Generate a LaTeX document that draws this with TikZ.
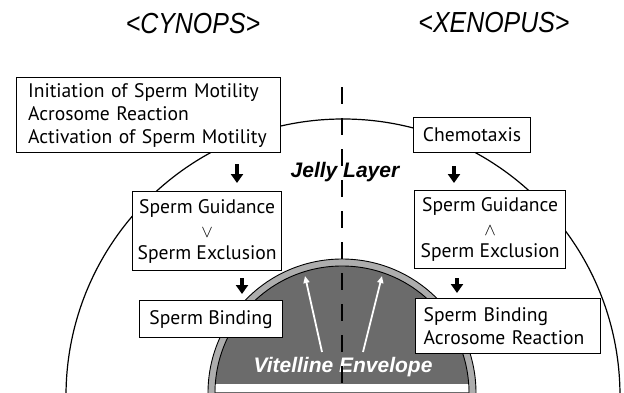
\documentclass[tikz,border=0pt]{standalone}
\usepackage{fontspec}
\usepackage{amsmath,amssymb}
\usetikzlibrary{arrows.meta}
\newfontfamily\boxfont{PT Sans}
\newfontfamily\headfont{Liberation Sans}

\begin{document}
\begin{tikzpicture}[x=1pt,y=-1pt,
species/.style={font=\headfont\itshape\fontsize{29}{34}\selectfont},
layer/.style={font=\headfont\bfseries\itshape\fontsize{21}{25}\selectfont},
event/.style={draw,line width=1.2pt,fill=white,anchor=north west,inner sep=0pt,font=\boxfont\fontsize{19.6}{23}\selectfont},
stage/.style={-{Triangle[width=12pt,length=9pt]},line width=4.2pt},
entry/.style={-{Triangle[width=6pt,length=7pt]},white,line width=1.8pt} ]

\useasboundingbox (0,0) rectangle (624,392);

\begin{scope}
\clip (0,0) rectangle (624,392);
\draw[line width=1.2pt] (343,396) circle[radius=277];
\filldraw[fill=black!32,draw=black,line width=0.9pt] (342,393) circle[radius=134];
\filldraw[fill=black!58,draw=black,line width=0.9pt] (342,393) circle[radius=127];
\clip (342,393) circle[radius=126.5];
\fill[white] (0,384) rectangle (624,392);
\end{scope}

\coordinate (tipL) at (305,276);
\coordinate (tipR) at (382,276);
\coordinate (baseL) at (322,352);
\coordinate (baseR) at (363,352);
\draw[entry] (baseL) -- (tipL);
\draw[entry] (baseR) -- (tipR);

\node[layer,white](vitelline) at (343,367) {Vitelline Envelope};

\coordinate (axisTop) at (342,87);
\coordinate (axisEnd) at (342,392);
\draw[dash pattern=on 17pt off 14pt,line width=1.2pt] (axisTop) -- (axisEnd);

\node[layer](jelly) at (345,172) {Jelly Layer};

\node[species](cynops) at (193,24) {\scalebox{0.86}[1]{<CYNOPS>}};
\node[species](xenopus) at (494,23) {\scalebox{0.86}[1]{<XENOPUS>}};

\node[event,minimum width=264pt,minimum height=75pt,text width=241pt,align=left](initiation) at (16,77) {Initiation of Sperm Motility\\Acrosome Reaction\\Activation of Sperm Motility};
\node[event,minimum width=149pt,minimum height=79pt,align=center](guidanceC) at (132,191) {Sperm Guidance\\[1pt]{\fontsize{16}{23}\selectfont$\vee$}\\[-1pt]Sperm Exclusion};
\node[event,minimum width=143pt,minimum height=37pt](bindingC) at (139,300) {Sperm Binding};

\node[event,minimum width=117pt,minimum height=35pt](chemotaxis) at (413,117) {Chemotaxis};
\node[event,minimum width=151pt,minimum height=78pt,align=center](guidanceX) at (414,190) {Sperm Guidance\\[1pt]{\fontsize{16}{23}\selectfont$\wedge$}\\[-1pt]Sperm Exclusion};
\node[event,minimum width=185pt,minimum height=55pt,text width=169pt,align=left](bindingX) at (415,298) {Sperm Binding\\Acrosome Reaction};

\coordinate (colC1) at (237,0);
\coordinate (colC2) at (242,0);
\coordinate (colX1) at (454,0);
\coordinate (colX2) at (457,0);

\draw[stage,shorten <=11pt,shorten >=8pt] (colC1 |- initiation.south) -- (colC1 |- guidanceC.north);
\draw[stage,shorten <=7pt,shorten >=6pt] (colC2 |- guidanceC.south) -- (colC2 |- bindingC.north);
\draw[stage,shorten <=13pt,shorten >=7pt] (colX1 |- chemotaxis.south) -- (colX1 |- guidanceX.north);
\draw[stage,shorten <=9pt,shorten >=5pt] (colX2 |- guidanceX.south) -- (colX2 |- bindingX.north);

\end{tikzpicture}
\end{document}
